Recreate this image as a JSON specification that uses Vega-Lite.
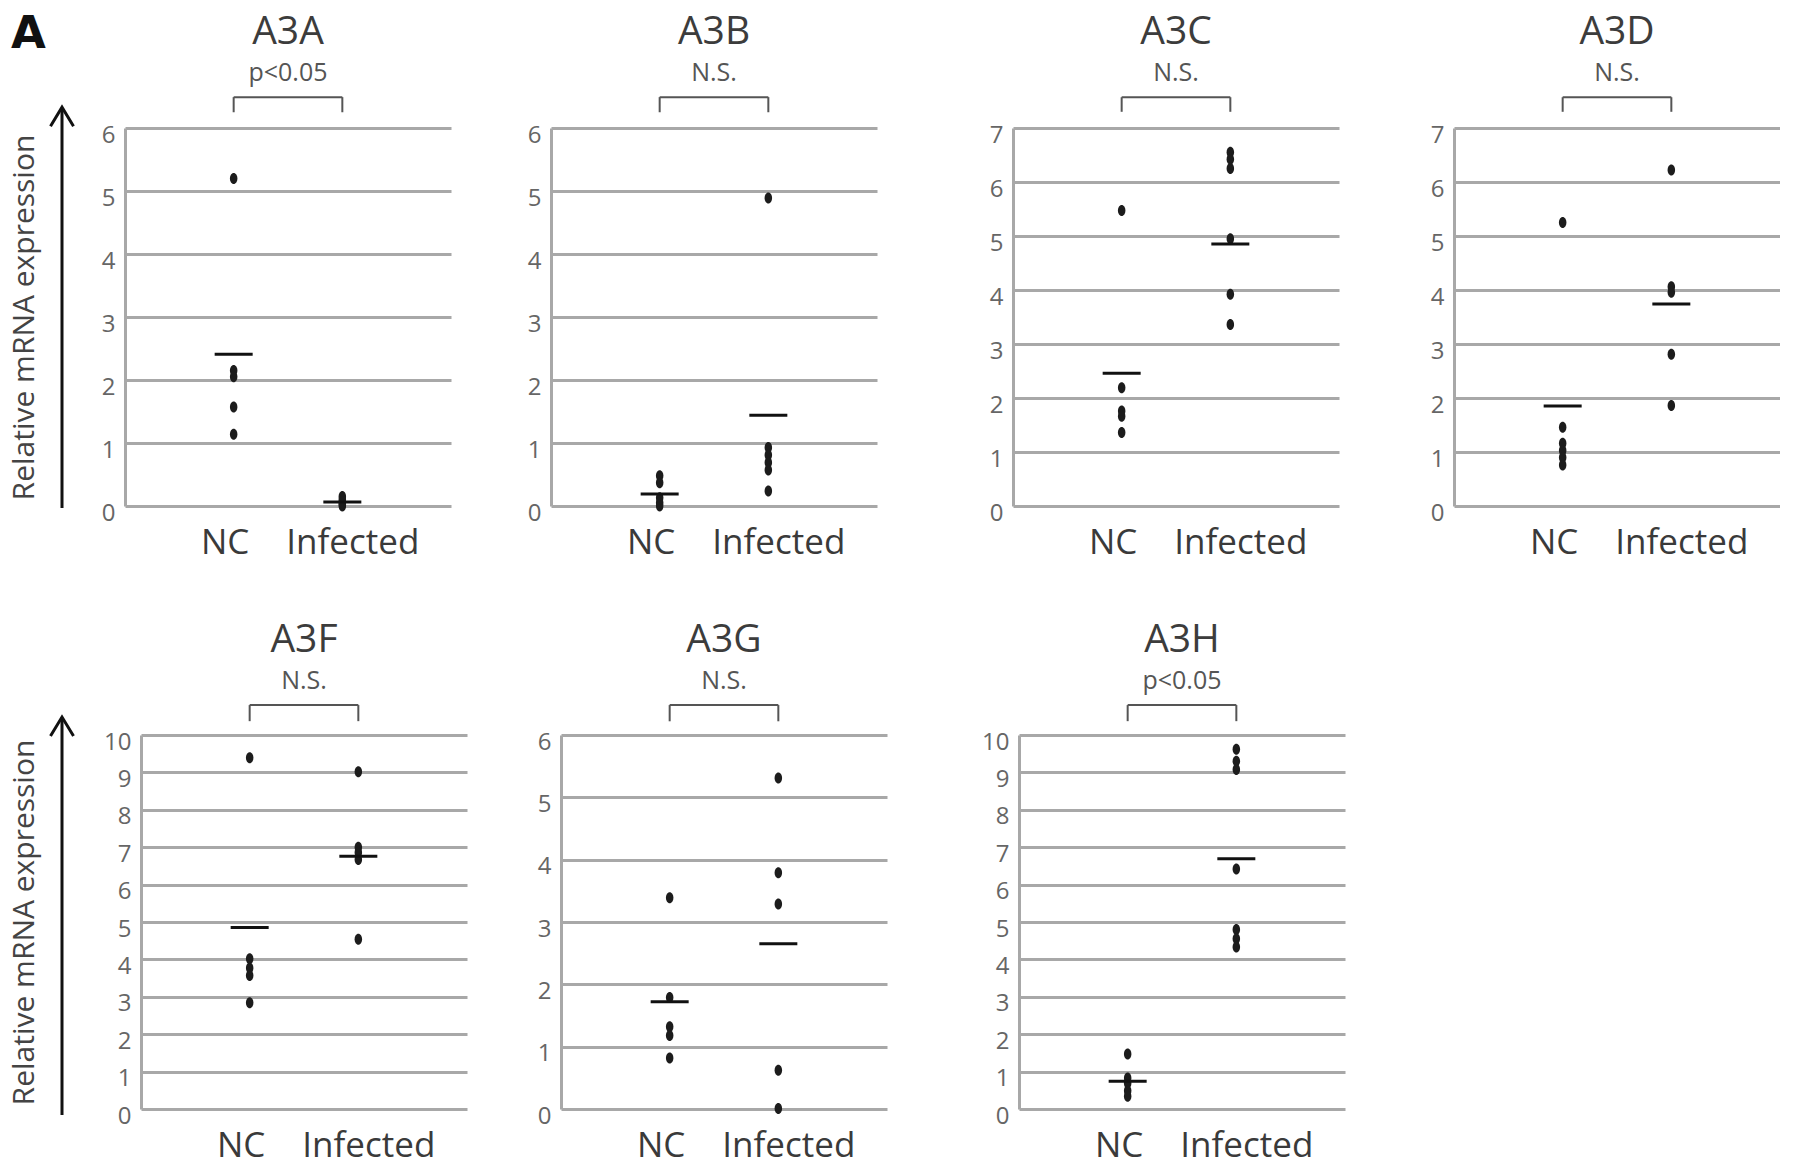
{
  "$schema": "https://vega.github.io/schema/vega-lite/v6.json",
  "padding": {"left": 9, "top": 12, "right": 0, "bottom": 0},
  "background": "white",
  "title": {"text": "A", "anchor": "start", "frame": "bounds", "font": "DejaVu Sans", "fontSize": 45, "fontWeight": "bold", "color": "#111111", "offset": -44, "dx": 2, "subtitle": ""},
  "datasets": {
    "pts": [
      {"gene": "A3A", "group": "NC", "value": 5.2},
      {"gene": "A3A", "group": "NC", "value": 2.15},
      {"gene": "A3A", "group": "NC", "value": 2.05},
      {"gene": "A3A", "group": "NC", "value": 1.57},
      {"gene": "A3A", "group": "NC", "value": 1.14},
      {"gene": "A3A", "group": "Infected", "value": 0.0},
      {"gene": "A3A", "group": "Infected", "value": 0.03},
      {"gene": "A3A", "group": "Infected", "value": 0.06},
      {"gene": "A3A", "group": "Infected", "value": 0.1},
      {"gene": "A3A", "group": "Infected", "value": 0.15},
      {"gene": "A3B", "group": "NC", "value": 0.48},
      {"gene": "A3B", "group": "NC", "value": 0.37},
      {"gene": "A3B", "group": "NC", "value": 0.13},
      {"gene": "A3B", "group": "NC", "value": 0.05},
      {"gene": "A3B", "group": "NC", "value": 0.0},
      {"gene": "A3B", "group": "Infected", "value": 4.89},
      {"gene": "A3B", "group": "Infected", "value": 0.93},
      {"gene": "A3B", "group": "Infected", "value": 0.81},
      {"gene": "A3B", "group": "Infected", "value": 0.69},
      {"gene": "A3B", "group": "Infected", "value": 0.57},
      {"gene": "A3B", "group": "Infected", "value": 0.24},
      {"gene": "A3C", "group": "NC", "value": 5.47},
      {"gene": "A3C", "group": "NC", "value": 2.19},
      {"gene": "A3C", "group": "NC", "value": 1.76},
      {"gene": "A3C", "group": "NC", "value": 1.66},
      {"gene": "A3C", "group": "NC", "value": 1.36},
      {"gene": "A3C", "group": "Infected", "value": 6.55},
      {"gene": "A3C", "group": "Infected", "value": 6.42},
      {"gene": "A3C", "group": "Infected", "value": 6.25},
      {"gene": "A3C", "group": "Infected", "value": 4.95},
      {"gene": "A3C", "group": "Infected", "value": 3.92},
      {"gene": "A3C", "group": "Infected", "value": 3.36},
      {"gene": "A3D", "group": "NC", "value": 5.25},
      {"gene": "A3D", "group": "NC", "value": 1.46},
      {"gene": "A3D", "group": "NC", "value": 1.16},
      {"gene": "A3D", "group": "NC", "value": 1.03},
      {"gene": "A3D", "group": "NC", "value": 0.9},
      {"gene": "A3D", "group": "NC", "value": 0.76},
      {"gene": "A3D", "group": "Infected", "value": 6.22},
      {"gene": "A3D", "group": "Infected", "value": 4.06},
      {"gene": "A3D", "group": "Infected", "value": 3.96},
      {"gene": "A3D", "group": "Infected", "value": 2.81},
      {"gene": "A3D", "group": "Infected", "value": 1.86},
      {"gene": "A3F", "group": "NC", "value": 9.39},
      {"gene": "A3F", "group": "NC", "value": 4.02},
      {"gene": "A3F", "group": "NC", "value": 3.77},
      {"gene": "A3F", "group": "NC", "value": 3.57},
      {"gene": "A3F", "group": "NC", "value": 2.84},
      {"gene": "A3F", "group": "Infected", "value": 9.02},
      {"gene": "A3F", "group": "Infected", "value": 7.0},
      {"gene": "A3F", "group": "Infected", "value": 6.86},
      {"gene": "A3F", "group": "Infected", "value": 6.67},
      {"gene": "A3F", "group": "Infected", "value": 4.54},
      {"gene": "A3G", "group": "NC", "value": 3.39},
      {"gene": "A3G", "group": "NC", "value": 1.79},
      {"gene": "A3G", "group": "NC", "value": 1.32},
      {"gene": "A3G", "group": "NC", "value": 1.18},
      {"gene": "A3G", "group": "NC", "value": 0.82},
      {"gene": "A3G", "group": "Infected", "value": 5.31},
      {"gene": "A3G", "group": "Infected", "value": 3.79},
      {"gene": "A3G", "group": "Infected", "value": 3.29},
      {"gene": "A3G", "group": "Infected", "value": 0.62},
      {"gene": "A3G", "group": "Infected", "value": 0.01},
      {"gene": "A3H", "group": "NC", "value": 1.47},
      {"gene": "A3H", "group": "NC", "value": 0.83},
      {"gene": "A3H", "group": "NC", "value": 0.69},
      {"gene": "A3H", "group": "NC", "value": 0.49},
      {"gene": "A3H", "group": "NC", "value": 0.34},
      {"gene": "A3H", "group": "Infected", "value": 9.62},
      {"gene": "A3H", "group": "Infected", "value": 9.3},
      {"gene": "A3H", "group": "Infected", "value": 9.08},
      {"gene": "A3H", "group": "Infected", "value": 6.42},
      {"gene": "A3H", "group": "Infected", "value": 4.8},
      {"gene": "A3H", "group": "Infected", "value": 4.55},
      {"gene": "A3H", "group": "Infected", "value": 4.33}
    ],
    "means": [
      {"gene": "A3A", "group": "NC", "value": 2.41},
      {"gene": "A3A", "group": "Infected", "value": 0.065},
      {"gene": "A3B", "group": "NC", "value": 0.19},
      {"gene": "A3B", "group": "Infected", "value": 1.44},
      {"gene": "A3C", "group": "NC", "value": 2.46},
      {"gene": "A3C", "group": "Infected", "value": 4.85},
      {"gene": "A3D", "group": "NC", "value": 1.85},
      {"gene": "A3D", "group": "Infected", "value": 3.74},
      {"gene": "A3F", "group": "NC", "value": 4.85},
      {"gene": "A3F", "group": "Infected", "value": 6.76},
      {"gene": "A3G", "group": "NC", "value": 1.72},
      {"gene": "A3G", "group": "Infected", "value": 2.65},
      {"gene": "A3H", "group": "NC", "value": 0.74},
      {"gene": "A3H", "group": "Infected", "value": 6.69}
    ]
  },
  "vconcat": [
    {
      "hconcat": [
        {
          "hconcat": [
            {
              "hconcat": [
                {
                  "width": 20, "height": 378,
                  "data": {"values": [{}]},
                  "layer": [
                    {"mark": {"type": "rule", "color": "#111111", "strokeWidth": 3},
                     "encoding": {
                       "x": {"datum": 0.5, "type": "quantitative", "scale": {"domain": [0, 1]}, "axis": null},
                       "y": {"datum": 6.31, "type": "quantitative", "scale": {"domain": [0, 6], "nice": false}, "axis": {"title": "Relative mRNA expression", "labels": false, "grid": false, "domain": false, "ticks": false, "labelPadding": 0, "titlePadding": 13}},
                       "y2": {"datum": -0.03}}},
                    {"mark": {"type": "point", "shape": "M -1 1.65 L 0 0 L 1 1.65", "filled": false, "size": 529, "color": "#111111", "strokeWidth": 3, "opacity": 1},
                     "encoding": {"x": {"datum": 0.5, "type": "quantitative"}, "y": {"datum": 6.33, "type": "quantitative"}}}
                  ]
                },
                {
                  "width": 326, "height": 378,
                  "title": {"text": "A3A", "subtitle": "p<0.05"},
                  "layer": [
                    {"data": {"name": "pts"}, "transform": [{"filter": "datum.gene === 'A3A'"}],
                     "mark": {"type": "point", "shape": "M -0.68 0 A 0.68 1 0 1 1 0.68 0 A 0.68 1 0 1 1 -0.68 0 Z", "filled": true, "size": 121, "color": "#1c1c1c", "opacity": 1},
                     "encoding": {
                       "x": {"field": "group", "type": "nominal", "scale": {"type": "point", "domain": ["NC", "Infected"], "padding": 1}, "axis": {"title": null}},
                       "y": {"field": "value", "type": "quantitative", "scale": {"domain": [0, 6], "nice": false}, "axis": {"values": [0, 1, 2, 3, 4, 5, 6], "tickCount": 12, "title": null}}
                     }},
                    {"data": {"name": "means"}, "transform": [{"filter": "datum.gene === 'A3A'"}],
                     "mark": {"type": "tick", "thickness": 3, "size": 38, "color": "#111111", "opacity": 1},
                     "encoding": {"x": {"field": "group", "type": "nominal"}, "y": {"field": "value", "type": "quantitative"}}},
                    {"data": {"values": [{}]}, "mark": {"type": "rule", "color": "#555555", "strokeWidth": 2},
                     "encoding": {"x": {"datum": "NC"}, "x2": {"datum": "Infected"}, "y": {"datum": 6.49}}},
                    {"data": {"values": [{}]}, "mark": {"type": "rule", "color": "#555555", "strokeWidth": 2},
                     "encoding": {"x": {"datum": "NC"}, "y": {"datum": 6.49}, "y2": {"datum": 6.25}}},
                    {"data": {"values": [{}]}, "mark": {"type": "rule", "color": "#555555", "strokeWidth": 2},
                     "encoding": {"x": {"datum": "Infected"}, "y": {"datum": 6.49}, "y2": {"datum": 6.25}}}
                  ]
                }
              ],
              "spacing": 21
            },
            {
              "width": 326, "height": 378,
              "title": {"text": "A3B", "subtitle": "N.S."},
              "layer": [
                {"data": {"name": "pts"}, "transform": [{"filter": "datum.gene === 'A3B'"}],
                 "mark": {"type": "point", "shape": "M -0.68 0 A 0.68 1 0 1 1 0.68 0 A 0.68 1 0 1 1 -0.68 0 Z", "filled": true, "size": 121, "color": "#1c1c1c", "opacity": 1},
                 "encoding": {
                   "x": {"field": "group", "type": "nominal", "scale": {"type": "point", "domain": ["NC", "Infected"], "padding": 1}, "axis": {"title": null}},
                   "y": {"field": "value", "type": "quantitative", "scale": {"domain": [0, 6], "nice": false}, "axis": {"values": [0, 1, 2, 3, 4, 5, 6], "tickCount": 12, "title": null}}
                 }},
                {"data": {"name": "means"}, "transform": [{"filter": "datum.gene === 'A3B'"}],
                 "mark": {"type": "tick", "thickness": 3, "size": 38, "color": "#111111", "opacity": 1},
                 "encoding": {"x": {"field": "group", "type": "nominal"}, "y": {"field": "value", "type": "quantitative"}}},
                {"data": {"values": [{}]}, "mark": {"type": "rule", "color": "#555555", "strokeWidth": 2},
                 "encoding": {"x": {"datum": "NC"}, "x2": {"datum": "Infected"}, "y": {"datum": 6.49}}},
                {"data": {"values": [{}]}, "mark": {"type": "rule", "color": "#555555", "strokeWidth": 2},
                 "encoding": {"x": {"datum": "NC"}, "y": {"datum": 6.49}, "y2": {"datum": 6.25}}},
                {"data": {"values": [{}]}, "mark": {"type": "rule", "color": "#555555", "strokeWidth": 2},
                 "encoding": {"x": {"datum": "Infected"}, "y": {"datum": 6.49}, "y2": {"datum": 6.25}}}
              ]
            }
          ],
          "spacing": 76
        },
        {
          "hconcat": [
            {
              "width": 326, "height": 378,
              "title": {"text": "A3C", "subtitle": "N.S."},
              "layer": [
                {"data": {"name": "pts"}, "transform": [{"filter": "datum.gene === 'A3C'"}],
                 "mark": {"type": "point", "shape": "M -0.68 0 A 0.68 1 0 1 1 0.68 0 A 0.68 1 0 1 1 -0.68 0 Z", "filled": true, "size": 121, "color": "#1c1c1c", "opacity": 1},
                 "encoding": {
                   "x": {"field": "group", "type": "nominal", "scale": {"type": "point", "domain": ["NC", "Infected"], "padding": 1}, "axis": {"title": null}},
                   "y": {"field": "value", "type": "quantitative", "scale": {"domain": [0, 7], "nice": false}, "axis": {"values": [0, 1, 2, 3, 4, 5, 6, 7], "tickCount": 12, "title": null}}
                 }},
                {"data": {"name": "means"}, "transform": [{"filter": "datum.gene === 'A3C'"}],
                 "mark": {"type": "tick", "thickness": 3, "size": 38, "color": "#111111", "opacity": 1},
                 "encoding": {"x": {"field": "group", "type": "nominal"}, "y": {"field": "value", "type": "quantitative"}}},
                {"data": {"values": [{}]}, "mark": {"type": "rule", "color": "#555555", "strokeWidth": 2},
                 "encoding": {"x": {"datum": "NC"}, "x2": {"datum": "Infected"}, "y": {"datum": 7.57}}},
                {"data": {"values": [{}]}, "mark": {"type": "rule", "color": "#555555", "strokeWidth": 2},
                 "encoding": {"x": {"datum": "NC"}, "y": {"datum": 7.57}, "y2": {"datum": 7.3}}},
                {"data": {"values": [{}]}, "mark": {"type": "rule", "color": "#555555", "strokeWidth": 2},
                 "encoding": {"x": {"datum": "Infected"}, "y": {"datum": 7.57}, "y2": {"datum": 7.3}}}
              ]
            },
            {
              "width": 326, "height": 378,
              "title": {"text": "A3D", "subtitle": "N.S."},
              "layer": [
                {"data": {"name": "pts"}, "transform": [{"filter": "datum.gene === 'A3D'"}],
                 "mark": {"type": "point", "shape": "M -0.68 0 A 0.68 1 0 1 1 0.68 0 A 0.68 1 0 1 1 -0.68 0 Z", "filled": true, "size": 121, "color": "#1c1c1c", "opacity": 1},
                 "encoding": {
                   "x": {"field": "group", "type": "nominal", "scale": {"type": "point", "domain": ["NC", "Infected"], "padding": 1}, "axis": {"title": null}},
                   "y": {"field": "value", "type": "quantitative", "scale": {"domain": [0, 7], "nice": false}, "axis": {"values": [0, 1, 2, 3, 4, 5, 6, 7], "tickCount": 12, "title": null}}
                 }},
                {"data": {"name": "means"}, "transform": [{"filter": "datum.gene === 'A3D'"}],
                 "mark": {"type": "tick", "thickness": 3, "size": 38, "color": "#111111", "opacity": 1},
                 "encoding": {"x": {"field": "group", "type": "nominal"}, "y": {"field": "value", "type": "quantitative"}}},
                {"data": {"values": [{}]}, "mark": {"type": "rule", "color": "#555555", "strokeWidth": 2},
                 "encoding": {"x": {"datum": "NC"}, "x2": {"datum": "Infected"}, "y": {"datum": 7.57}}},
                {"data": {"values": [{}]}, "mark": {"type": "rule", "color": "#555555", "strokeWidth": 2},
                 "encoding": {"x": {"datum": "NC"}, "y": {"datum": 7.57}, "y2": {"datum": 7.3}}},
                {"data": {"values": [{}]}, "mark": {"type": "rule", "color": "#555555", "strokeWidth": 2},
                 "encoding": {"x": {"datum": "Infected"}, "y": {"datum": 7.57}, "y2": {"datum": 7.3}}}
              ]
            }
          ],
          "spacing": 91
        }
      ],
      "spacing": 112
    },
    {
      "hconcat": [
        {
          "hconcat": [
            {
              "hconcat": [
                {
                  "width": 20, "height": 374,
                  "data": {"values": [{}]},
                  "layer": [
                    {"mark": {"type": "rule", "color": "#111111", "strokeWidth": 3},
                     "encoding": {
                       "x": {"datum": 0.5, "type": "quantitative", "scale": {"domain": [0, 1]}, "axis": null},
                       "y": {"datum": 10.46, "type": "quantitative", "scale": {"domain": [0, 10], "nice": false}, "axis": {"title": "Relative mRNA expression", "labels": false, "grid": false, "domain": false, "ticks": false, "labelPadding": 0, "titlePadding": 13}},
                       "y2": {"datum": -0.16}}},
                    {"mark": {"type": "point", "shape": "M -1 1.65 L 0 0 L 1 1.65", "filled": false, "size": 529, "color": "#111111", "strokeWidth": 3, "opacity": 1},
                     "encoding": {"x": {"datum": 0.5, "type": "quantitative"}, "y": {"datum": 10.48, "type": "quantitative"}}}
                  ]
                },
                {
                  "width": 326, "height": 374,
                  "title": {"text": "A3F", "subtitle": "N.S."},
                  "layer": [
                    {"data": {"name": "pts"}, "transform": [{"filter": "datum.gene === 'A3F'"}],
                     "mark": {"type": "point", "shape": "M -0.68 0 A 0.68 1 0 1 1 0.68 0 A 0.68 1 0 1 1 -0.68 0 Z", "filled": true, "size": 121, "color": "#1c1c1c", "opacity": 1},
                     "encoding": {
                       "x": {"field": "group", "type": "nominal", "scale": {"type": "point", "domain": ["NC", "Infected"], "padding": 1}, "axis": {"title": null}},
                       "y": {"field": "value", "type": "quantitative", "scale": {"domain": [0, 10], "nice": false}, "axis": {"values": [0, 1, 2, 3, 4, 5, 6, 7, 8, 9, 10], "tickCount": 12, "title": null}}
                     }},
                    {"data": {"name": "means"}, "transform": [{"filter": "datum.gene === 'A3F'"}],
                     "mark": {"type": "tick", "thickness": 3, "size": 38, "color": "#111111", "opacity": 1},
                     "encoding": {"x": {"field": "group", "type": "nominal"}, "y": {"field": "value", "type": "quantitative"}}},
                    {"data": {"values": [{}]}, "mark": {"type": "rule", "color": "#555555", "strokeWidth": 2},
                     "encoding": {"x": {"datum": "NC"}, "x2": {"datum": "Infected"}, "y": {"datum": 10.8}}},
                    {"data": {"values": [{}]}, "mark": {"type": "rule", "color": "#555555", "strokeWidth": 2},
                     "encoding": {"x": {"datum": "NC"}, "y": {"datum": 10.8}, "y2": {"datum": 10.37}}},
                    {"data": {"values": [{}]}, "mark": {"type": "rule", "color": "#555555", "strokeWidth": 2},
                     "encoding": {"x": {"datum": "Infected"}, "y": {"datum": 10.8}, "y2": {"datum": 10.37}}}
                  ]
                }
              ],
              "spacing": 23
            },
            {
              "width": 326, "height": 374,
              "title": {"text": "A3G", "subtitle": "N.S."},
              "layer": [
                {"data": {"name": "pts"}, "transform": [{"filter": "datum.gene === 'A3G'"}],
                 "mark": {"type": "point", "shape": "M -0.68 0 A 0.68 1 0 1 1 0.68 0 A 0.68 1 0 1 1 -0.68 0 Z", "filled": true, "size": 121, "color": "#1c1c1c", "opacity": 1},
                 "encoding": {
                   "x": {"field": "group", "type": "nominal", "scale": {"type": "point", "domain": ["NC", "Infected"], "padding": 1}, "axis": {"title": null}},
                   "y": {"field": "value", "type": "quantitative", "scale": {"domain": [0, 6], "nice": false}, "axis": {"values": [0, 1, 2, 3, 4, 5, 6], "tickCount": 12, "title": null}}
                 }},
                {"data": {"name": "means"}, "transform": [{"filter": "datum.gene === 'A3G'"}],
                 "mark": {"type": "tick", "thickness": 3, "size": 38, "color": "#111111", "opacity": 1},
                 "encoding": {"x": {"field": "group", "type": "nominal"}, "y": {"field": "value", "type": "quantitative"}}},
                {"data": {"values": [{}]}, "mark": {"type": "rule", "color": "#555555", "strokeWidth": 2},
                 "encoding": {"x": {"datum": "NC"}, "x2": {"datum": "Infected"}, "y": {"datum": 6.48}}},
                {"data": {"values": [{}]}, "mark": {"type": "rule", "color": "#555555", "strokeWidth": 2},
                 "encoding": {"x": {"datum": "NC"}, "y": {"datum": 6.48}, "y2": {"datum": 6.22}}},
                {"data": {"values": [{}]}, "mark": {"type": "rule", "color": "#555555", "strokeWidth": 2},
                 "encoding": {"x": {"datum": "Infected"}, "y": {"datum": 6.48}, "y2": {"datum": 6.22}}}
              ]
            }
          ],
          "spacing": 70
        },
        {
          "width": 326, "height": 374,
          "title": {"text": "A3H", "subtitle": "p<0.05"},
          "layer": [
            {"data": {"name": "pts"}, "transform": [{"filter": "datum.gene === 'A3H'"}],
             "mark": {"type": "point", "shape": "M -0.68 0 A 0.68 1 0 1 1 0.68 0 A 0.68 1 0 1 1 -0.68 0 Z", "filled": true, "size": 121, "color": "#1c1c1c", "opacity": 1},
             "encoding": {
               "x": {"field": "group", "type": "nominal", "scale": {"type": "point", "domain": ["NC", "Infected"], "padding": 1}, "axis": {"title": null}},
               "y": {"field": "value", "type": "quantitative", "scale": {"domain": [0, 10], "nice": false}, "axis": {"values": [0, 1, 2, 3, 4, 5, 6, 7, 8, 9, 10], "tickCount": 12, "title": null}}
             }},
            {"data": {"name": "means"}, "transform": [{"filter": "datum.gene === 'A3H'"}],
             "mark": {"type": "tick", "thickness": 3, "size": 38, "color": "#111111", "opacity": 1},
             "encoding": {"x": {"field": "group", "type": "nominal"}, "y": {"field": "value", "type": "quantitative"}}},
            {"data": {"values": [{}]}, "mark": {"type": "rule", "color": "#555555", "strokeWidth": 2},
             "encoding": {"x": {"datum": "NC"}, "x2": {"datum": "Infected"}, "y": {"datum": 10.8}}},
            {"data": {"values": [{}]}, "mark": {"type": "rule", "color": "#555555", "strokeWidth": 2},
             "encoding": {"x": {"datum": "NC"}, "y": {"datum": 10.8}, "y2": {"datum": 10.37}}},
            {"data": {"values": [{}]}, "mark": {"type": "rule", "color": "#555555", "strokeWidth": 2},
             "encoding": {"x": {"datum": "Infected"}, "y": {"datum": 10.8}, "y2": {"datum": 10.37}}}
          ]
        }
      ],
      "spacing": 94
    }
  ],
  "spacing": 61,
  "config": {
    "view": {"stroke": null},
    "font": "Open Sans",
    "title": {"font": "Open Sans", "fontSize": 39, "fontWeight": "normal", "color": "#3c3c3c", "subtitleFont": "Open Sans", "subtitleFontSize": 25, "subtitleColor": "#555555", "subtitlePadding": 9, "frame": "group", "anchor": "middle", "offset": 10},
    "axis": {"labelFont": "Open Sans", "titleFont": "Open Sans", "ticks": false},
    "axisY": {"grid": true, "gridColor": "#a8a8a8", "gridWidth": 3, "domainColor": "#a8a8a8", "domainWidth": 3, "labelFontSize": 24, "labelColor": "#666666", "labelPadding": 10, "labelOffset": 7, "labelOverlap": false, "format": "d", "titleFontSize": 30, "titleColor": "#444444", "titleFontWeight": "normal"},
    "axisX": {"grid": false, "domain": false, "labelAngle": 0, "labelFontSize": 35, "labelColor": "#3a3a3a", "labelPadding": 19, "labelOffset": {"condition": {"test": "datum.value === 'NC'", "value": -9}, "value": 10}}
  }
}
